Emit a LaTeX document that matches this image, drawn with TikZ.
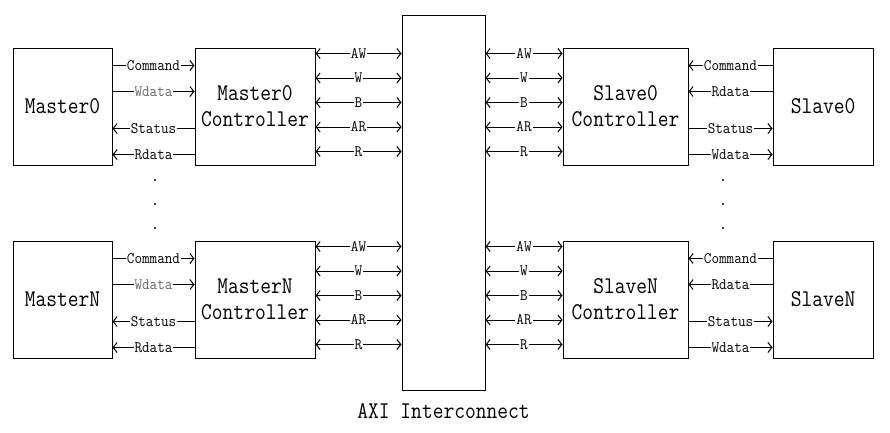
\documentclass[tikz,border=0pt]{standalone}
\usepackage{fontspec}
\usetikzlibrary{arrows.meta,positioning}
\newfontfamily\boxfont[FakeStretch=0.87]{Latin Modern Mono}
\newfontfamily\sigfont[FakeStretch=0.92]{Latin Modern Mono}

\begin{document}
\begin{tikzpicture}[x=1pt,y=-1pt,line width=1pt,
    >={Straight Barb[length=4pt,width=10pt]},
    blk/.style={draw,align=center,inner sep=0pt,minimum height=117pt,
      font=\boxfont\fontsize{24}{26}\selectfont},
    sig/.style={fill=white,inner sep=1pt,font=\sigfont\fontsize{16}{16}\selectfont},
    fwd/.style={->},bwd/.style={<-}]
  \useasboundingbox (0,0) rectangle (890,432);
  \node[blk,minimum width=83pt,minimum height=375pt] (ic) at (443.5,202.5) {};
  \node[below=12pt of ic,inner sep=0pt,font=\boxfont\fontsize{24}{26}\selectfont] (axi) {AXI Interconnect};
  \foreach \n/\y in {0/106.5,N/299.5} {
    \node[blk,minimum width=99pt] (m\n) at (62.5,\y) {Master\n};
    \node[blk,minimum width=120pt] (c\n) at (255,\y) {Master\n\\Controller};
    \node[blk,minimum width=125pt] (sc\n) at (625.5,\y) {Slave\n\\Controller};
    \node[blk,minimum width=100pt] (s\n) at (823,\y) {Slave\n};
    % master side
    \foreach \d/\t/\s/\c in {18/fwd/Command/black,44/fwd/Wdata/black!60,81/bwd/Status/black,107/bwd/Rdata/black}
      \draw[\t] ([yshift=-\d]m\n.north east) coordinate (p) -- (p -| c\n.west) node[sig,midway,text=\c]{\s};
    % slave side
    \foreach \d/\t/\s in {18/fwd/Command,44/fwd/Rdata,81/bwd/Status,107/bwd/Wdata}
      \draw[\t] ([yshift=-\d]s\n.north west) coordinate (p) -- (p -| sc\n.east) node[sig,midway]{\s};
    % AXI channels
    \foreach \b [count=\i] in {AW,W,B,AR,R} {
      \draw[<->] ([yshift={-6-24.5*(\i-1)}]c\n.north east) coordinate (p) -- (p -| ic.west) node[sig,midway]{\b};
      \draw[<->] ([yshift={-6-24.5*(\i-1)}]sc\n.north west) coordinate (p) -- (p -| ic.east) node[sig,midway]{\b};
    }
  }
  \foreach \y in {180,204,228} {
    \fill (155,\y) circle (1.1);
    \fill (723,\y) circle (1.1);
  }
\end{tikzpicture}
\end{document}
